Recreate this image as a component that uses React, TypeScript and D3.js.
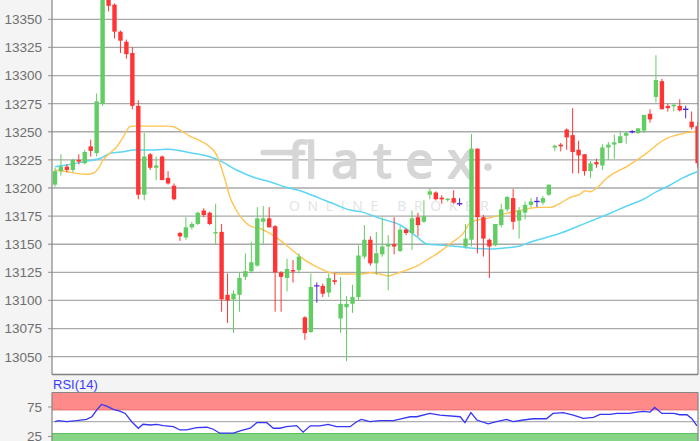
import React from "react";
import * as d3 from "d3";

// ---- Data ----
const opens = [13203,13215,13219,13216,13225,13222,13237,13231,13275,13370,13363,13339,13330,13320,13273,13194,13230,13218,13228,13209,13202,13160,13156,13165,13168,13180,13178,13159.6,13161,13105,13101,13105,13121,13126,13131,13170,13173,13166,13125,13120,13127,13127,13085,13072,13113,13113,13107,13118,13084,13094,13097,13103,13139,13154,13133,13141,13148,13150,13144,13163,13160,13174,13170,13194,13196,13191.4,13189.5,13191,13186,13148,13154,13235,13174,13154,13149,13167,13181,13191,13171,13178,13185,13188,13187,13194,13236,13238.5,13252,13247,13234,13230,13215,13223,13220,13236,13238.6,13240,13246.5,13250,13249,13251,13266,13281,13295,13273,13272.6,13273,13270,13259,13255];
const highs = [13218,13230,13221,13226,13230,13234,13243,13284,13380,13374,13364,13340,13332,13325,13278,13249,13231,13228,13229,13215,13204,13161,13174,13170,13179,13182,13179,13186,13168,13124,13109,13125,13142,13152,13183,13184,13183,13167,13126,13137,13136,13142,13086,13124,13116,13115,13124,13124,13121,13104,13114,13149,13167,13157,13161,13174,13158,13174,13166,13164,13180,13178,13189,13200,13197,13193.5,13191,13198,13191,13168,13248,13235,13176,13155,13168,13186,13193,13199,13183,13188,13191,13192,13193,13203,13238.5,13240,13253,13271,13242,13230,13224,13226,13239,13241,13247.5,13251,13250.4,13251.5,13253,13265,13270,13318,13297,13275,13275,13279,13273,13268,13259];
const lows = [13201,13211,13214,13214,13221,13221,13228,13228,13273,13357,13333,13320,13315,13270,13190,13189,13216,13207,13207,13203,13189,13153,13154,13163,13167,13174,13167,13150,13090,13080,13071,13090,13118,13124,13130,13150,13165,13090,13090,13108,13116,13124,13065,13071,13098,13103,13103,13114,13071,13046,13089,13100,13137,13131,13123,13139,13109,13141,13143,13158,13145,13157,13169,13190,13189,13186,13188,13186,13184,13146,13148,13142,13139,13120,13148,13165,13179,13163,13155,13172,13183,13183,13185,13193,13232.6,13232.6,13234,13213,13213,13211,13209,13218,13216,13225,13226,13240,13239.4,13248.5,13248,13249,13258,13276,13270,13268,13268,13268,13262,13252,13218];
const closes = [13215,13219,13216,13225,13223.5,13232,13233,13277,13372,13362,13339,13331,13319,13273,13194,13228,13218,13220,13207,13204,13190,13157,13165,13168,13178,13176,13168,13160.8,13101,13100,13106,13120,13126,13134,13173,13173,13165,13125,13121,13128,13125.7,13139,13071,13112,13113,13106,13120,13116.5,13097,13097,13103,13140,13154,13133,13142,13148,13150,13148,13163,13160,13173,13167,13175,13197,13190,13189.9,13190.5,13187,13186,13155,13235,13174,13155,13148,13168,13181,13192,13170,13180,13185,13188,13188,13191,13203,13237.6,13237,13245,13232,13229,13215,13222,13221,13236,13238.5,13240.6,13246,13249,13250,13253,13265,13261,13296,13270,13271,13274,13269,13270,13254,13222];

// moving averages (candle index, value)
const maFastIdx = [0,2,3.6,5.3,6.4,7.3,8.1,9.2,10.4,11.5,12.6,13.2,16,18.8,19.9,21,22.7,24.4,26,27.2,27.7,28.6,29.4,30.5,31.9,33,34.5,36.1,37.8,39.5,41.2,42.9,44.5,46.2,47.9,49.6,51.3,52.9,54.6,56,57.4,59.1,60.8,62.5,64.7,66.9,68.6,69.7,70.9,72.6,74.2,75.9,78.2,79.8,81.5,83.2,84.9,86.6,88.2,89.1,89.9,91,92.7,94.4,96.1,97.8,99.4,101.1,102.8,104.5,106.2,107.9];
const maFastVal = [13216,13214.5,13213,13212.2,13213.1,13217.5,13225,13230.8,13236.7,13245.6,13254.5,13255,13255,13255,13254.5,13251.5,13246,13242,13236.7,13229,13222,13207,13192,13180,13170,13165.6,13164,13159.7,13153.7,13146.4,13139,13133,13128.6,13124.7,13123.5,13123.5,13123.3,13124.7,13123.5,13121.8,13124,13127,13130.6,13136,13143.4,13152.2,13159.7,13168.6,13171.5,13173,13175,13177.5,13180,13182,13182.8,13182.8,13186.4,13191.7,13194.4,13197.6,13196.7,13199.7,13208.6,13214.5,13219,13224.9,13230.8,13238.2,13244.2,13247.1,13249.2,13250.7];
const maSlowIdx = [0,2,4.8,7.6,9.2,11.5,13.2,16,18.8,21,22.7,26,27.7,30.5,33.9,36.1,38.9,41.7,44.5,47.3,49.6,51.3,54.6,58,60.8,62.5,64.7,68.1,70.3,73.1,75.9,78.2,79.3,82.1,84.9,87.7,90.5,93.3,96.1,98.9,101.1,103.4,105.6,107.9];
const maSlowVal = [13219,13220.4,13223.4,13226.4,13230.8,13232.3,13233.8,13233.8,13234.4,13233.2,13231.4,13227.8,13224.3,13216,13208.6,13205.6,13200.6,13196.7,13190.8,13184.9,13180.4,13179,13173,13167.1,13156.7,13150.2,13149.3,13147.8,13146.4,13145.8,13146.9,13148.4,13150.8,13155.3,13159.7,13165.6,13171.5,13177.5,13184,13190,13196.7,13202.7,13209.2,13214.5];

const rsiIdx = [0,0.55,2,3.6,5.3,6.2,7,7.8,8.7,9.8,10.9,11.8,12.9,14,14.8,16,17.1,18.2,19.9,21,22.1,23.8,25.5,26.6,27.7,30,31.1,32.8,33.9,35.6,36.7,37.8,38.9,40.6,41.7,42.9,44.5,45.9,47.3,49.6,50.7,51.5,52.9,54.6,56.9,58.5,59.7,60.8,63,64.7,68.1,68.9,69.9,70.9,72.8,74.2,75.9,77,78.7,80.4,82.6,83.7,85.4,87.1,88.8,90.5,91.6,93.3,94.4,96.6,97.8,98.9,100,100.8,102,104,105,106.2,107,107.9];
const rsiVal = [50,51.7,50,51.7,54,58.4,69.7,79.3,76.4,70.8,68,64,50,38.9,45.6,44.4,45.6,43.3,41.6,36,36,39.9,40.6,37.2,30.5,30.5,34.3,38.9,48.3,48.3,38.9,38.9,41.6,43.3,32.2,43,43,45.6,41.6,41.6,50,54,50,51.7,51.7,55.6,58.4,58.4,64,61.3,58.4,48.3,65.3,52.9,46.2,50,54,50,52.9,55,55,64,65.3,61.3,55.6,57.3,62.3,62.3,64,64,66.3,67.5,66.3,74.2,64,64,61.8,61.8,55.6,42.8];

const priceTicks = [13050,13075,13100,13125,13150,13175,13200,13225,13250,13275,13300,13325,13350];
const rsiTicks = [25, 75];
const rsiUpper = 70;
const rsiLower = 30;

// ---- Layout ----
const W = 700, H = 441;
const plotL = 52, plotR = 698;
const mainBottom = 374.5;
const rsiTop = 392.5;

const GREEN = "#62cd62";
const RED = "#ff3434";
const DOJI = "#5228d8";

export default function App() {
  const x = d3.scaleLinear().domain([0, 108]).range([55, 697.6]);
  const y = d3.scaleLinear().domain([13050, 13350]).range([356.7, 19.3]);
  const yr = d3.scaleLinear().domain([0, 100]).range([451.2, 392.2]);

  const lineFast = d3.line<number>().x((_, i) => x(maFastIdx[i])).y((v) => y(v)).curve(d3.curveMonotoneX);
  const lineSlow = d3.line<number>().x((_, i) => x(maSlowIdx[i])).y((v) => y(v)).curve(d3.curveMonotoneX);
  const lineRsi = d3.line<number>().x((_, i) => x(rsiIdx[i])).y((v) => yr(v));

  const bw = 4.4;

  return (
    <svg width={W} height={H} style={{ position: "fixed", left: 0, top: 0, display: "block" }} fontFamily="'Liberation Sans', Arial, sans-serif">
      <defs>
        <clipPath id="mainClip"><rect x={plotL} y={-20} width={plotR - plotL} height={mainBottom + 20} /></clipPath>
        <clipPath id="rsiClip"><rect x={plotL} y={rsiTop} width={plotR - plotL} height={H - rsiTop + 10} /></clipPath>
      </defs>
      <rect x={0} y={0} width={W} height={H} fill="#f4f4f4" />
      {/* main plot area */}
      <rect x={plotL} y={-2} width={plotR - plotL} height={mainBottom + 2} fill="#ffffff" />
      {priceTicks.map((t) => (
        <g key={t}>
          <line x1={48} x2={plotR} y1={y(t)} y2={y(t)} stroke="#a9a9a9" strokeWidth={1.3} />
          <text x={42} y={y(t)} dy="0.36em" textAnchor="end" fontSize={13.5} fill="#6e6e6e">{t}</text>
        </g>
      ))}

      {/* watermark */}
      <g>
        <line x1={263} x2={300} y1={152.5} y2={152.5} stroke="#d6d6d6" strokeWidth={5.5} strokeLinecap="round" />
        <text x={288} y={178} fontFamily="'Open Sans', sans-serif" fontSize={50} fill="#d6d6d6" stroke="#d6d6d6" strokeWidth={2.2} strokeLinejoin="round" textLength={186} lengthAdjust="spacing">flatex</text>
        <circle cx={488} cy={167} r={3.8} fill="#d6d6d6" />
        <text x={289} y={211} fontFamily="'Open Sans', sans-serif" fontSize={14} fill="#e3e3e3" textLength={200} lengthAdjust="spacing">ONLINE BROKER</text>
      </g>

      <g clipPath="url(#mainClip)">
        <path d={lineSlow(maSlowVal) || ""} fill="none" stroke="#5cd6f6" strokeWidth={1.5} />
        <path d={lineFast(maFastVal) || ""} fill="none" stroke="#ffc451" strokeWidth={1.4} />
        {closes.map((c, i) => {
          const o = opens[i];
          const cx = x(i);
          const col = c > o ? GREEN : c < o ? RED : DOJI;
          const top = y(Math.max(o, c));
          const bot = y(Math.min(o, c));
          const h = Math.max(bot - top, 1.4);
          return (
            <g key={i}>
              <line x1={cx} x2={cx} y1={y(highs[i])} y2={y(lows[i])} stroke={col} strokeWidth={1} />
              {c === o ? (
                <line x1={cx - bw / 2 - 0.5} x2={cx + bw / 2 + 0.5} y1={top} y2={top} stroke={col} strokeWidth={1.4} />
              ) : (
                <rect x={cx - bw / 2} y={top} width={bw} height={h} fill={col} />
              )}
            </g>
          );
        })}
      </g>
      {/* main borders */}
      <line x1={plotL} x2={plotL} y1={0} y2={mainBottom} stroke="#858585" strokeWidth={1.2} />
      <line x1={plotR} x2={plotR} y1={0} y2={mainBottom} stroke="#858585" strokeWidth={1.2} />
      <line x1={plotL} x2={plotR} y1={mainBottom} y2={mainBottom} stroke="#808080" strokeWidth={1.5} />

      {/* RSI panel */}
      <text x={53} y={389} fontSize={13} fill="#3a3aff">RSI(14)</text>
      <rect x={plotL} y={rsiTop} width={plotR - plotL} height={H - rsiTop} fill="#ffffff" />
      <rect x={plotL} y={rsiTop} width={plotR - plotL} height={yr(rsiUpper) - rsiTop} fill="#ff8a8a" />
      <line x1={plotL} x2={plotR} y1={yr(rsiUpper)} y2={yr(rsiUpper)} stroke="#e86a6a" strokeWidth={1} />
      <rect x={plotL} y={yr(rsiLower)} width={plotR - plotL} height={H - yr(rsiLower)} fill="#86d486" />
      <line x1={plotL} x2={plotR} y1={yr(rsiLower)} y2={yr(rsiLower)} stroke="#5fbf5f" strokeWidth={1.2} />
      <line x1={plotL} x2={plotR} y1={yr(50)} y2={yr(50)} stroke="#b0b0b0" strokeWidth={1.2} />
      {rsiTicks.map((t) => (
        <g key={t}>
          <line x1={48} x2={plotL} y1={yr(t)} y2={yr(t)} stroke="#a0a0a0" strokeWidth={1.2} />
          <text x={42} y={yr(t)} dy="0.36em" textAnchor="end" fontSize={13.5} fill="#6e6e6e">{t}</text>
        </g>
      ))}
      <g clipPath="url(#rsiClip)">
        <path d={lineRsi(rsiVal) || ""} fill="none" stroke="#3535f5" strokeWidth={1.3} />
      </g>
      <line x1={plotL} x2={plotR} y1={rsiTop} y2={rsiTop} stroke="#858585" strokeWidth={1.2} />
      <line x1={plotL} x2={plotL} y1={rsiTop} y2={H} stroke="#858585" strokeWidth={1.2} />
      <line x1={plotR} x2={plotR} y1={rsiTop} y2={H} stroke="#858585" strokeWidth={1.2} />
    </svg>
  );
}
